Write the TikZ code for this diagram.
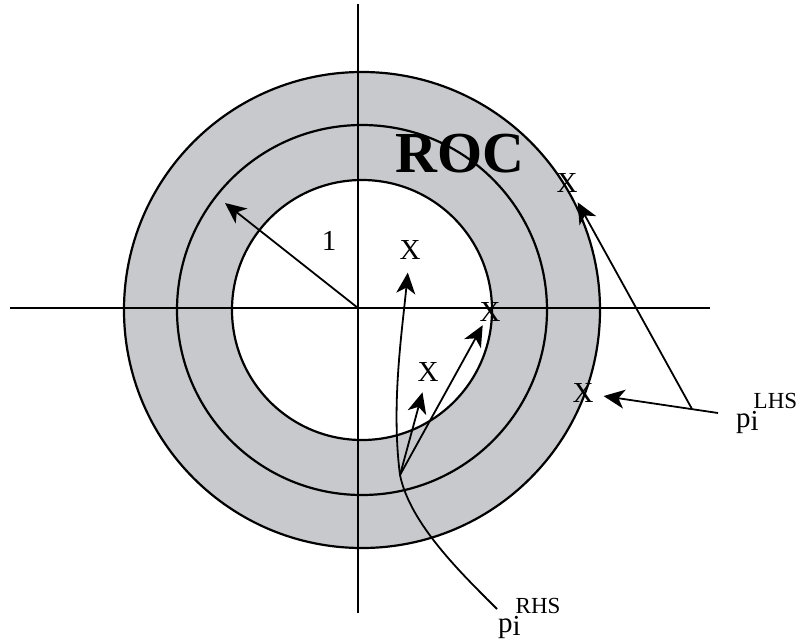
\documentclass[tikz,border=0pt]{standalone}
\usepackage{fontspec}
\setmainfont{Liberation Serif}
\usetikzlibrary{arrows.meta,positioning,calc}
\definecolor{rocgray}{RGB}{200,201,204}
\tikzset{
  arr/.style={-{Stealth[length=21pt,width=19pt,inset=6pt]},line width=1.8pt},
  ring/.style={line width=2.2pt},
  axis/.style={line width=2pt},
  pole/.style={inner sep=0pt,font=\fontsize{29}{32}\selectfont},
  lbl/.style={inner sep=0pt,anchor=base west,font=\fontsize{29}{32}\selectfont},
}
\newcommand{\pside}[1]{p\rlap{\raisebox{-3pt}{i}}\kern3pt\raisebox{19pt}{\fontsize{23}{25}\selectfont #1}}

\begin{document}
\begin{tikzpicture}[x=1pt,y=1pt]
 \useasboundingbox (-358,-333) rectangle (439,308);
 % region of convergence
 \coordinate (c) at (4,-2);
 \fill[rocgray] (c) circle (238pt);
 \fill[white] (c) circle (130pt);
 \draw[ring] (c) circle (238pt) (c) circle (185pt) (c) circle (130pt);
 % axes
 \coordinate (o) at (0,0);
 \draw[axis] (-348,0) -- (352,0);
 \draw[axis] (0,304) -- (0,-305);
 % poles
 \node[pole] (x1) at (52,58) {X};
 \node[pole] (x2) at (132,-4) {X};
 \node[pole] (x3) at (70,-64) {X};
 \node[pole] (x4) at (209,125) {X};
 \node[pole] (x5) at (225,-85) {X};
 \node[inner sep=0pt,font=\bfseries\fontsize{58}{60}\selectfont] (roc) at (102,154) {ROC};
 \node[pole] (one) at (-29,67) {1};
 % side labels
 \node[lbl] (plhs) at (378,-119) {\pside{LHS}};
 \node[lbl] (prhs) at (140,-324) {\pside{RHS}};
 \coordinate (r1) at (-133,105);
 \coordinate (lhs) at (360,-105);
 \coordinate (jl) at (334,-101);
 \coordinate (rhs) at (139,-301);
 \coordinate (jr) at (42,-167);
 % arrows
 \draw[arr] (o) -- (r1);
 \draw[arr,shorten >=13pt] (rhs) .. controls (104,-266) and (52,-216) .. (jr) .. controls (33,-97) and (44,-24) .. (x1);
 \draw[arr,shorten >=11pt] (jr) -- (x3);
 \draw[arr,shorten >=4pt] (jr) -- (x2);
 \draw[arr,shorten >=11pt] (jl) -- (x4);
 \draw[arr,shorten >=10pt] (lhs) -- (x5);
\end{tikzpicture}
\end{document}
